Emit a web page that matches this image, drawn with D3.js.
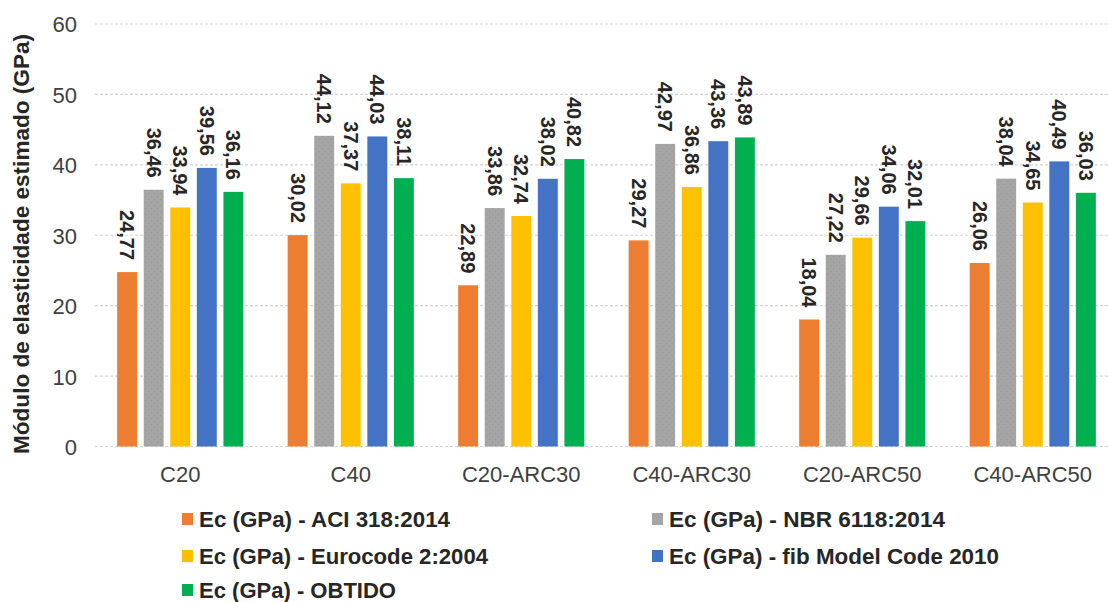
<!DOCTYPE html>
<html>
<head>
<meta charset="utf-8">
<script src="https://cdn.jsdelivr.net/npm/d3@7"></script>
<style>
  html, body { margin: 0; padding: 0; background: #fff; }
  svg { display: block; font-family: "Liberation Sans", Arial, sans-serif; }
</style>
</head>
<body>
<svg id="chart" width="1108" height="602"></svg>
<script>
// Concrete mixes on the x axis
const categories = ["C20", "C40", "C20-ARC30", "C40-ARC30", "C20-ARC50", "C40-ARC50"];

// Series names (one per estimation method)
const seriesNames = [
  "Ec (GPa) - ACI 318:2014",
  "Ec (GPa) - NBR 6118:2014",
  "Ec (GPa) - Eurocode 2:2004",
  "Ec (GPa) - fib Model Code 2010",
  "Ec (GPa) - OBTIDO"
];

// Values per series, in category order
const aci318    = [24.77, 30.02, 22.89, 29.27, 18.04, 26.06];
const nbr6118   = [36.46, 44.12, 33.86, 42.97, 27.22, 38.04];
const eurocode2 = [33.94, 37.37, 32.74, 36.86, 29.66, 34.65];
const fibMC2010 = [39.56, 44.03, 38.02, 43.36, 34.06, 40.49];
const obtido    = [36.16, 38.11, 40.82, 43.89, 32.01, 36.03];

const yTicks = [0, 10, 20, 30, 40, 50, 60];

const seriesValues = [aci318, nbr6118, eurocode2, fibMC2010, obtido];
const colors = ["#ED7D31", "#A5A5A5", "#FFC000", "#4472C4", "#00B050"];
// Rendered widths of the legend entries
const legendWidths = [251, 276, 289, 330, 197];

const svg = d3.select("#chart");

// Dotted texture for the grey series
const defs = svg.append("defs");
const pat = defs.append("pattern")
  .attr("id", "greyDots").attr("patternUnits", "userSpaceOnUse")
  .attr("width", 6).attr("height", 6);
pat.append("rect").attr("width", 6).attr("height", 6).attr("fill", "#A5A5A5");
pat.append("circle").attr("cx", 1.5).attr("cy", 1.5).attr("r", 0.7).attr("fill", "#979797");
pat.append("circle").attr("cx", 4.5).attr("cy", 4.5).attr("r", 0.7).attr("fill", "#979797");

const plot = { left: 95, right: 1118, top: 24, bottom: 446.5 };

const x = d3.scaleBand().domain(categories)
  .range([plot.left, plot.right])
  .paddingInner(0.26).paddingOuter(0.13);

const xs = d3.scaleBand().domain(d3.range(seriesNames.length))
  .range([0, x.bandwidth()])
  .paddingInner(0.25);

const y = d3.scaleLinear().domain([0, 60]).range([plot.bottom, plot.top]);

// Gridlines
svg.append("g").selectAll("line").data(yTicks).join("line")
  .attr("x1", plot.left).attr("x2", plot.right)
  .attr("y1", d => y(d)).attr("y2", d => y(d))
  .attr("stroke", "#d4d4d4").attr("stroke-width", 1.2)
  .attr("stroke-dasharray", "3,2");

// Y axis tick labels
const yAxis = d3.axisLeft(y).tickValues(yTicks).tickSize(0).tickPadding(0);
const yg = svg.append("g").attr("transform", "translate(77,0)").call(yAxis);
yg.select(".domain").remove();
yg.selectAll("text")
  .attr("font-size", 22).attr("fill", "#404040")
  .attr("font-family", "Liberation Sans, Arial, sans-serif")
  .attr("dy", "0.36em");

// X axis category labels
const xAxis = d3.axisBottom(x).tickSize(0).tickPadding(0);
const xg = svg.append("g").attr("transform", `translate(0,${plot.bottom})`).call(xAxis);
xg.select(".domain").remove();
xg.selectAll("text")
  .attr("font-size", 22).attr("fill", "#404040")
  .attr("font-family", "Liberation Sans, Arial, sans-serif")
  .attr("dy", null).attr("y", 35);

// Bars and value labels
const groups = svg.append("g").selectAll("g").data(categories).join("g")
  .attr("transform", d => `translate(${x(d)},0)`);

groups.each(function(cat, ci) {
  const g = d3.select(this);
  const rows = seriesValues.map((vals, si) => ({ si, v: vals[ci] }));
  g.selectAll("rect").data(rows).join("rect")
    .attr("x", d => xs(d.si))
    .attr("width", xs.bandwidth())
    .attr("y", d => y(d.v))
    .attr("height", d => y(0) - y(d.v))
    .attr("fill", d => d.si === 1 ? "url(#greyDots)" : colors[d.si]);
  g.selectAll("text").data(rows).join("text")
    .attr("transform", d => `translate(${xs(d.si) + xs.bandwidth() / 2},${y(d.v) - 12}) rotate(90)`)
    .attr("text-anchor", "end")
    .attr("dy", "0.35em")
    .attr("font-size", 20).attr("font-weight", "bold")
    .attr("fill", "#262626")
    .text(d => d3.format(".2f")(d.v).replace(".", ","));
});

// Y axis title
svg.append("text")
  .attr("transform", `translate(29,244) rotate(-90)`)
  .attr("text-anchor", "middle")
  .attr("font-size", 22).attr("font-weight", "bold").attr("fill", "#262626")
  .attr("textLength", 420).attr("lengthAdjust", "spacingAndGlyphs")
  .text("Módulo de elasticidade estimado (GPa)");

// Legend: two columns, three rows
const legendCols = [182, 652];
const legendRows = [519, 556, 590];
const legend = svg.append("g").selectAll("g").data(seriesNames).join("g")
  .attr("transform", (d, i) => `translate(${legendCols[i % 2]},${legendRows[Math.floor(i / 2)]})`);
legend.append("rect")
  .attr("x", 0).attr("y", -6).attr("width", 11).attr("height", 12)
  .attr("fill", (d, i) => colors[i]);
legend.append("text")
  .attr("x", 17).attr("dy", "0.36em")
  .attr("font-size", 22).attr("font-weight", "bold").attr("fill", "#262626")
  .attr("textLength", (d, i) => legendWidths[i]).attr("lengthAdjust", "spacingAndGlyphs")
  .text(d => d);
</script>
</body>
</html>
